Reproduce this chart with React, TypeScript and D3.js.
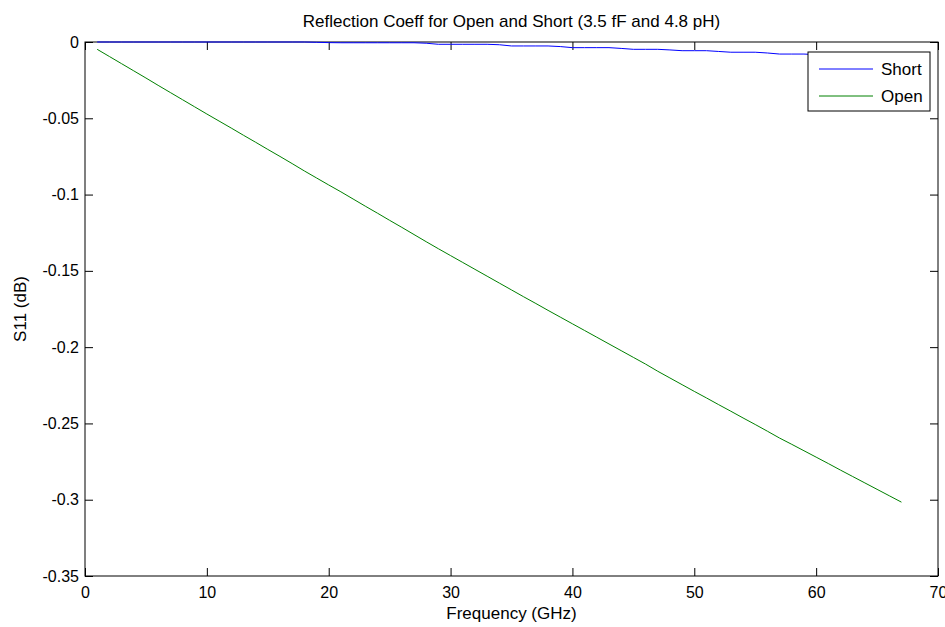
import React, { useEffect, useRef } from "react";
import * as d3 from "d3";

// frequency points in GHz
const freqs: number[] = d3.range(1, 68);

// S11 (dB), 1..67 GHz
const shortS11: number[] = [
  0, 0, 0, 0, 0, 0, 0, 0, 0, 0,
  0, 0, 0, 0, 0, 0, 0, 0, -0.0002, -0.0004,
  -0.0005, -0.0005, -0.0005, -0.0005, -0.0005, -0.0005, -0.0005, -0.0008, -0.0015, -0.0015,
  -0.0015, -0.0015, -0.0015, -0.0018, -0.0026, -0.0026, -0.0026, -0.0026, -0.0030, -0.0037,
  -0.0037, -0.0037, -0.0037, -0.0042, -0.0048, -0.0048, -0.0048, -0.0052, -0.0057, -0.0057,
  -0.0057, -0.0062, -0.0067, -0.0067, -0.0067, -0.0072, -0.0079, -0.0079, -0.0079, -0.0083,
  -0.0088, -0.0090, -0.0092, -0.0095, -0.0098, -0.0100, -0.0102,
];

const openS11: number[] = [
  -0.0048, -0.0095, -0.0142, -0.0189, -0.0236, -0.0284, -0.0331, -0.0378, -0.0425, -0.0472,
  -0.0518, -0.0564, -0.0611, -0.0657, -0.0704, -0.0750, -0.0797, -0.0845, -0.0891, -0.0937,
  -0.0982, -0.1029, -0.1076, -0.1122, -0.1169, -0.1215, -0.1262, -0.1309, -0.1355, -0.1400,
  -0.1445, -0.1490, -0.1535, -0.1580, -0.1625, -0.1670, -0.1714, -0.1759, -0.1803, -0.1847,
  -0.1891, -0.1935, -0.1979, -0.2023, -0.2067, -0.2111, -0.2158, -0.2202, -0.2246, -0.2290,
  -0.2333, -0.2377, -0.2420, -0.2464, -0.2507, -0.2551, -0.2596, -0.2637, -0.2679, -0.2721,
  -0.2763, -0.2806, -0.2848, -0.2890, -0.2932, -0.2974, -0.3016,
];

const xTicks: number[] = [0, 10, 20, 30, 40, 50, 60, 70];
const yTicks: number[] = [0, -0.05, -0.1, -0.15, -0.2, -0.25, -0.3, -0.35];

const seriesNames: string[] = ["Short", "Open"];
const seriesColors: string[] = ["#0000ff", "#008000"];

export default function App() {
  const ref = useRef<SVGSVGElement>(null);

  useEffect(() => {
    const svg = d3.select(ref.current);
    svg.selectAll("*").remove();

    const W = 945, H = 627;
    const margin = { top: 42, right: 7, bottom: 51, left: 85 };
    const width = W - margin.left - margin.right;
    const height = H - margin.top - margin.bottom;
    const font = "'Liberation Sans', Arial, sans-serif";

    svg.append("rect").attr("width", W).attr("height", H).attr("fill", "#fff");

    const g = svg.append("g").attr("transform", `translate(${margin.left},${margin.top})`);

    const x = d3.scaleLinear().domain([0, 70]).range([0, width]);
    const y = d3.scaleLinear().domain([-0.35, 0]).range([height, 0]);

    const tickLen = 8;

    const fmtY = (d: number) => (d === 0 ? "0" : String(d));

    // ticks point inward on all four sides
    const bottom = g.append("g").attr("transform", `translate(0,${height})`)
      .call(d3.axisBottom(x).tickValues(xTicks).tickSize(-tickLen).tickPadding(11).tickFormat((d) => String(d)));
    const top = g.append("g")
      .call(d3.axisTop(x).tickValues(xTicks).tickSize(-tickLen).tickFormat(() => ""));
    const left = g.append("g")
      .call(d3.axisLeft(y).tickValues(yTicks).tickSize(-tickLen).tickPadding(6).tickFormat((d) => fmtY(+d)));
    const right = g.append("g").attr("transform", `translate(${width},0)`)
      .call(d3.axisRight(y).tickValues(yTicks).tickSize(-tickLen).tickFormat(() => ""));

    [bottom, top, left, right].forEach((a) => {
      a.select(".domain").remove();
      a.selectAll("line").attr("stroke", "#000").attr("stroke-width", 1);
      a.selectAll("text").attr("font-family", font).attr("font-size", 16).attr("fill", "#000");
    });
    bottom.selectAll("text").attr("dy", "0.71em");

    g.append("rect")
      .attr("x", 0).attr("y", 0).attr("width", width).attr("height", height)
      .attr("fill", "none").attr("stroke", "#000").attr("stroke-width", 1);

    const clip = svg.append("clipPath").attr("id", "plotclip");
    clip.append("rect").attr("width", width).attr("height", height + 1).attr("y", -1);

    const line = d3.line<number>()
      .x((_, i) => x(freqs[i]))
      .y((d) => y(d));

    const plot = g.append("g").attr("clip-path", "url(#plotclip)");
    [shortS11, openS11].forEach((s, i) => {
      plot.append("path")
        .datum(s)
        .attr("d", line)
        .attr("fill", "none")
        .attr("stroke", seriesColors[i])
        .attr("stroke-width", 1);
    });

    // title and axis labels
    svg.append("text")
      .attr("x", margin.left + width / 2).attr("y", 27)
      .attr("text-anchor", "middle").attr("font-family", font).attr("font-size", 17)
      .text("Reflection Coeff for Open and Short (3.5 fF and 4.8 pH)");

    svg.append("text")
      .attr("x", margin.left + width / 2).attr("y", 619)
      .attr("text-anchor", "middle").attr("font-family", font).attr("font-size", 17)
      .text("Frequency (GHz)");

    svg.append("text")
      .attr("transform", `translate(26,${margin.top + height / 2}) rotate(-90)`)
      .attr("text-anchor", "middle").attr("font-family", font).attr("font-size", 17)
      .text("S11 (dB)");

    // legend
    const lx = 808, ly = 52, lw = 122, lh = 59;
    const legend = svg.append("g").attr("transform", `translate(${lx},${ly})`);
    legend.append("rect")
      .attr("width", lw).attr("height", lh)
      .attr("fill", "#fff").attr("stroke", "#000").attr("stroke-width", 1);
    const items = legend.selectAll("g.item").data(seriesNames).enter().append("g")
      .attr("transform", (_, i) => `translate(0,${17 + i * 27})`);
    items.append("line")
      .attr("x1", 11).attr("x2", 65).attr("y1", 0).attr("y2", 0)
      .attr("stroke", (_, i) => seriesColors[i]).attr("stroke-width", 1);
    items.append("text")
      .attr("x", 73).attr("y", 0).attr("dy", "0.35em")
      .attr("font-family", font).attr("font-size", 17)
      .text((d) => d);
  }, []);

  return (
    <svg ref={ref} width={945} height={627}
      style={{ position: "absolute", left: 0, top: 0, display: "block" }} />
  );
}
